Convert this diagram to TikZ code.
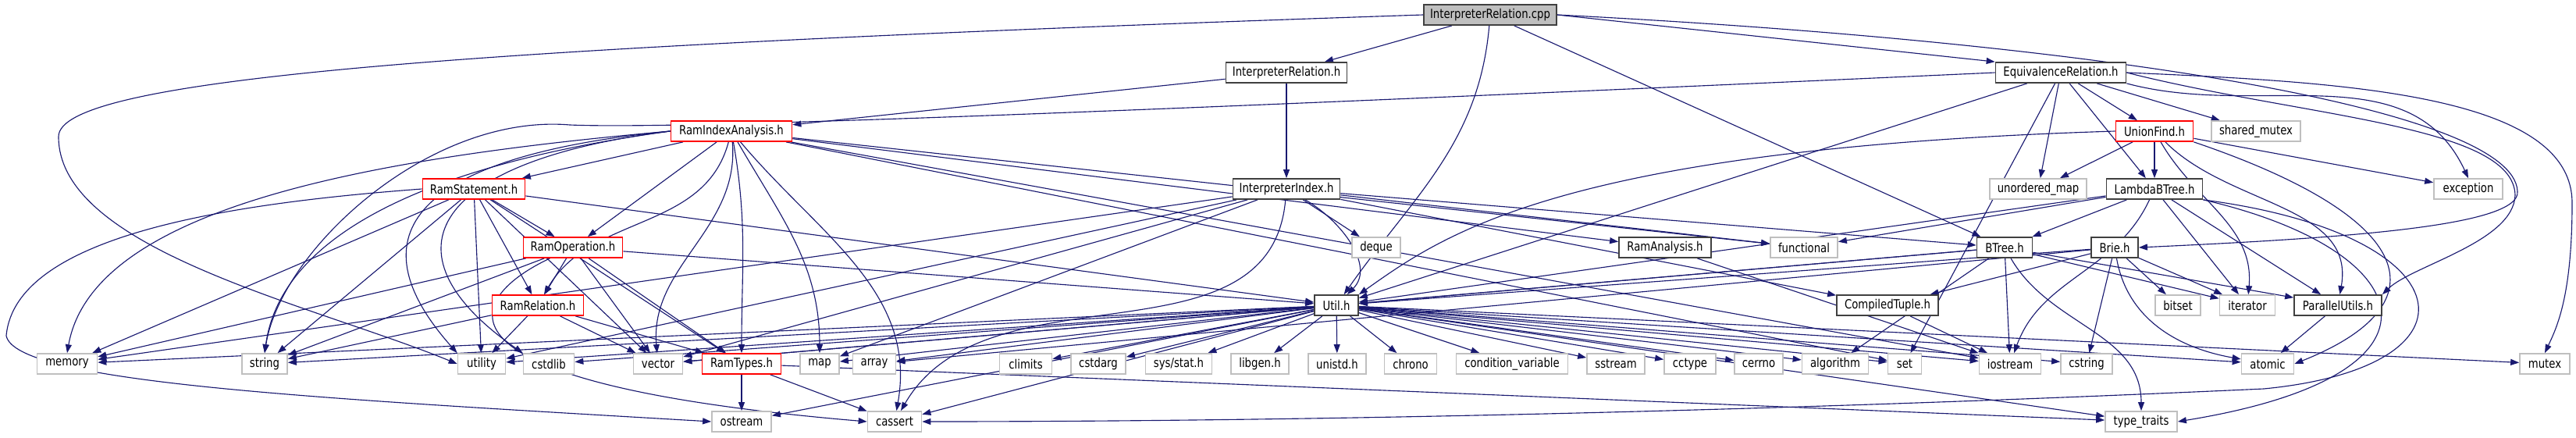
\documentclass[tikz,border=0pt]{standalone}
\usepackage{fontspec}
\newfontfamily\dxfont{DejaVu Sans}[FakeStretch=0.82]
\usetikzlibrary{arrows.meta,backgrounds}
\definecolor{edgeblue}{RGB}{25,25,112}
\definecolor{sysgray}{RGB}{191,191,191}
\definecolor{rootgray}{RGB}{191,191,191}
\begin{document}
\begin{tikzpicture}[
    font=\dxfont\fontsize{4.6}{5.5}\selectfont,
    file/.style={draw=black!75, line width=0.5pt, fill=white, minimum height=0.26cm, inner sep=0pt},
    header/.style={file},
    cutoff/.style={file, draw=red},
    system/.style={file, draw=sysgray},
    source/.style={file, draw=black!75, fill=rootgray},
    dep/.style={draw=edgeblue, line width=0.32pt, -{Triangle[length=1.1mm,width=0.8mm]}}
]
\useasboundingbox (0,0) rectangle (33,-5.6);

\node[source, minimum width=1.70cm] (cpp) at (19.09,-0.19) {InterpreterRelation.cpp};
\node[header, minimum width=1.55cm] (relh) at (16.48,-0.93) {InterpreterRelation.h};
\node[header, minimum width=1.67cm] (equiv) at (26.40,-0.93) {EquivalenceRelation.h};
\node[cutoff, minimum width=1.55cm] (ria) at (9.37,-1.68) {RamIndexAnalysis.h};
\node[cutoff, minimum width=0.99cm] (unionfind) at (27.60,-1.68) {UnionFind.h};
\node[system, minimum width=1.14cm] (sharedmutex) at (28.90,-1.68) {shared\_mutex};
\node[cutoff, minimum width=1.31cm] (ramstmt) at (6.07,-2.42) {RamStatement.h};
\node[header, minimum width=1.37cm] (index) at (16.48,-2.42) {InterpreterIndex.h};
\node[system, minimum width=1.24cm] (unorderedmap) at (26.11,-2.42) {unordered\_map};
\node[header, minimum width=1.23cm] (lambdabtree) at (27.60,-2.42) {LambdaBTree.h};
\node[system, minimum width=0.88cm] (exception) at (31.62,-2.42) {exception};
\node[cutoff, minimum width=1.27cm] (ramop) at (7.34,-3.17) {RamOperation.h};
\node[system, minimum width=0.62cm] (deque) at (17.63,-3.17) {deque};
\node[header, minimum width=1.18cm] (ramanalysis) at (21.33,-3.17) {RamAnalysis.h};
\node[system, minimum width=0.86cm] (functional) at (23.11,-3.17) {functional};
\node[header, minimum width=0.71cm] (btree) at (25.68,-3.17) {BTree.h};
\node[header, minimum width=0.60cm] (brie) at (27.09,-3.17) {Brie.h};
\node[cutoff, minimum width=1.17cm] (ramrel) at (6.89,-3.91) {RamRelation.h};
\node[header, minimum width=0.56cm] (util) at (17.12,-3.91) {Util.h};
\node[header, minimum width=1.30cm] (ctuple) at (24.18,-3.91) {CompiledTuple.h};
\node[system, minimum width=0.58cm] (bitset) at (27.90,-3.91) {bitset};
\node[system, minimum width=0.71cm] (iterator) at (28.79,-3.91) {iterator};
\node[header, minimum width=1.12cm] (parallel) at (29.95,-3.91) {ParallelUtils.h};

\foreach \n/\x/\w in {memory/0.86/0.77, string/3.39/0.58, utility/6.17/0.61, cstdlib/7.03/0.65,
    vector/8.43/0.63, map/10.50/0.50, array/11.20/0.55, climits/13.14/0.67, cstdarg/14.07/0.70,
    chrono/18.07/0.67, sstream/20.70/0.74,
    cctype/21.65/0.66, cerrno/22.53/0.62, algorithm/23.51/0.85, set/24.40/0.43,
    iostream/25.75/0.79, cstring/26.73/0.66, atomic/29.05/0.67, mutex/32.60/0.64}
    \node[system, minimum width=\w cm] (\n) at (\x,-4.66) {\n};
\node[system, minimum width=0.85cm] (sysstat) at (15.10,-4.66) {sys/stat.h};
\node[system, minimum width=0.74cm] (libgen) at (16.14,-4.66) {libgen.h};
\node[system, minimum width=0.74cm] (unistd) at (17.13,-4.66) {unistd.h};
\node[system, minimum width=1.43cm] (condvar) at (19.37,-4.66) {condition\_variable};
\node[cutoff, minimum width=1.01cm] (ramtypes) at (9.50,-4.66) {RamTypes.h};

\node[system, minimum width=0.76cm] (ostream) at (9.50,-5.40) {ostream};
\node[system, minimum width=0.69cm] (cassert) at (11.46,-5.40) {cassert};
\node[system, minimum width=0.92cm] (typetraits) at (27.43,-5.40) {type\_traits};

\begin{pgfonlayer}{background}
\draw[dep] (cpp) -- (relh);
\draw[dep] (cpp.east) -- (equiv.north west);
\draw[dep] (cpp) to[out=-95,in=55] (util);
\draw[dep] (cpp) -- (btree);
\draw[dep] (cpp.east) .. controls (27,-0.55) and (32.2,-1.4) .. (32.25,-2.45) .. controls (32.3,-2.9) and (30,-3.05) .. (brie.east);
\draw[dep] (cpp.west) .. controls (6,-0.6) and (0.75,-1.0) .. (0.75,-1.75) .. controls (0.75,-3.2) and (4,-3.9) .. (utility.west);

\draw[dep] (relh) -- (ria);
\draw[dep] (relh) -- (index);

\draw[dep] (equiv) -- (unionfind);
\draw[dep] (equiv) -- (sharedmutex);
\draw[dep] (equiv) -- (unorderedmap);
\draw[dep] (equiv) -- (lambdabtree);
\draw[dep] (equiv) -- (util);
\draw[dep] (equiv) -- (set);
\draw[dep] (equiv.south east) to[out=-15,in=115] (exception.north);
\draw[dep] (equiv.west) .. controls (13,-1.5) and (8.5,-1.65) .. (7.3,-1.6) .. controls (5.5,-1.45) and (3.6,-3.2) .. (string.north);
\draw[dep] (equiv.east) .. controls (30,-1.05) and (32.95,-1.2) .. (32.95,-2.6) .. controls (32.95,-3.8) and (32.75,-4.2) .. (mutex.north);
\draw[dep] (equiv.east) .. controls (29.5,-1.5) and (32.2,-1.6) .. (32.22,-2.5) .. controls (32.2,-3.1) and (30.9,-3.4) .. (parallel.north east);

\draw[dep] (unionfind) -- (unorderedmap);
\draw[dep] (unionfind) -- (lambdabtree);
\draw[dep] (unionfind) -- (exception);
\draw[dep] (unionfind.west) .. controls (20,-1.9) and (18.5,-3) .. (util.north east);
\draw[dep] (unionfind) to[out=-60,in=85] (iterator);
\draw[dep] (unionfind) to[out=-45,in=80] (parallel);
\draw[dep] (unionfind.south east) .. controls (31,-2.8) and (31.3,-3.9) .. (atomic.east);

\draw[dep] (lambdabtree) -- (functional);
\draw[dep] (lambdabtree) -- (btree);
\draw[dep] (lambdabtree) -- (util);
\draw[dep] (lambdabtree) -- (iterator);
\draw[dep] (lambdabtree) -- (parallel);
\draw[dep] (lambdabtree) to[out=-115,in=70] (iostream);
\draw[dep] (lambdabtree.south east) .. controls (31.6,-3.0) and (31.9,-4.7) .. (29,-4.98) .. controls (22,-5.3) and (16,-5.4) .. (cassert.east);
\draw[dep] (lambdabtree.south east) .. controls (31.0,-3.2) and (31.6,-4.8) .. (typetraits.east);

\draw[dep] (btree) -- (iostream);
\draw[dep] (btree) to[out=-60,in=90] (typetraits);
\draw[dep] (btree) -- (iterator);
\draw[dep] (btree) -- (parallel);
\draw[dep] (btree) -- (util);
\draw[dep] (btree) -- (algorithm);
\draw[dep] (btree) -- (vector);

\draw[dep] (brie) -- (ctuple);
\draw[dep] (brie) -- (bitset);
\draw[dep] (brie) -- (iterator);
\draw[dep] (brie) -- (cstring);
\draw[dep] (brie) to[out=-80,in=170] (atomic);
\draw[dep] (brie) -- (util);
\draw[dep] (brie) -- (array);

\draw[dep] (ctuple) -- (iostream);
\draw[dep] (parallel) -- (atomic);
\draw[dep] (ramanalysis) -- (iostream);

\draw[dep] (index) -- (deque);
\draw[dep] (index) to[out=-30,in=45] (util);
\draw[dep] (index) -- (btree);
\draw[dep] (index) -- (functional);
\draw[dep] (index) -- (ctuple);
\draw[dep] (index) -- (memory);
\draw[dep] (index) -- (vector);
\draw[dep] (index) -- (utility);
\draw[dep] (index) -- (map);
\draw[dep] (index) to[out=-95,in=60] (cassert);

\draw[dep] (ria) -- (ramstmt);
\draw[dep] (ria) -- (ramop);
\draw[dep] (ria) to[out=-105,in=60] (ramrel);
\draw[dep] (ria) -- (ramanalysis);
\draw[dep] (ria) -- (functional);
\draw[dep] (ria) -- (set);
\draw[dep] (ria) -- (iostream);
\draw[dep] (ria.west) .. controls (5,-2.0) and (1.2,-2.6) .. (memory.north);
\draw[dep] (ria.west) .. controls (5.5,-2.1) and (3.6,-3) .. (string.north);
\draw[dep] (ria.west) .. controls (5.3,-2.0) and (4.5,-3.0) .. (utility.north west);
\draw[dep] (ria.west) .. controls (5.6,-2.05) and (4.8,-3.2) .. (cstdlib.north west);
\draw[dep] (ria) to[out=-85,in=95] (vector);
\draw[dep] (ria) to[out=-80,in=90] (ramtypes);
\draw[dep] (ria) to[out=-60,in=90] (map);
\draw[dep] (ria) to[out=-50,in=80] (cassert);

\draw[dep] (ramstmt) -- (ramop);
\draw[dep] (ramstmt) -- (ramrel);
\draw[dep] (ramstmt) -- (memory);
\draw[dep] (ramstmt) -- (string);
\draw[dep] (ramstmt) -- (utility);
\draw[dep] (ramstmt) -- (vector);
\draw[dep] (ramstmt) -- (ramtypes);
\draw[dep] (ramstmt) -- (util);
\draw[dep] (ramstmt.west) .. controls (3,-2.6) and (0.2,-3.0) .. (0.08,-4.3) .. controls (0.2,-4.9) and (4,-5.1) .. (ostream.west);

\draw[dep] (ramop) -- (ramrel);
\draw[dep] (ramop) -- (memory);
\draw[dep] (ramop) -- (string);
\draw[dep] (ramop) -- (vector);
\draw[dep] (ramop) -- (ramtypes);
\draw[dep] (ramop) -- (util);
\draw[dep] (ramop) .. controls (6,-3.8) and (5.2,-4.9) .. (cassert.west);

\draw[dep] (ramrel) -- (string);
\draw[dep] (ramrel) -- (utility);
\draw[dep] (ramrel) -- (vector);
\draw[dep] (ramrel) -- (ramtypes);

\draw[dep] (ramtypes) -- (ostream);
\draw[dep] (ramtypes) -- (cassert);
\draw[dep] (ramtypes) -- (typetraits);

\foreach \t in {memory, string, utility, cstdlib, vector, map, array, climits, cstdarg, sysstat,
    libgen, unistd, chrono, condvar, sstream, cctype, cerrno, algorithm, set, iostream,
    cstring, atomic, mutex, cassert, ostream, typetraits}
    \draw[dep] (util) -- (\t);
\end{pgfonlayer}
\end{tikzpicture}
\end{document}
